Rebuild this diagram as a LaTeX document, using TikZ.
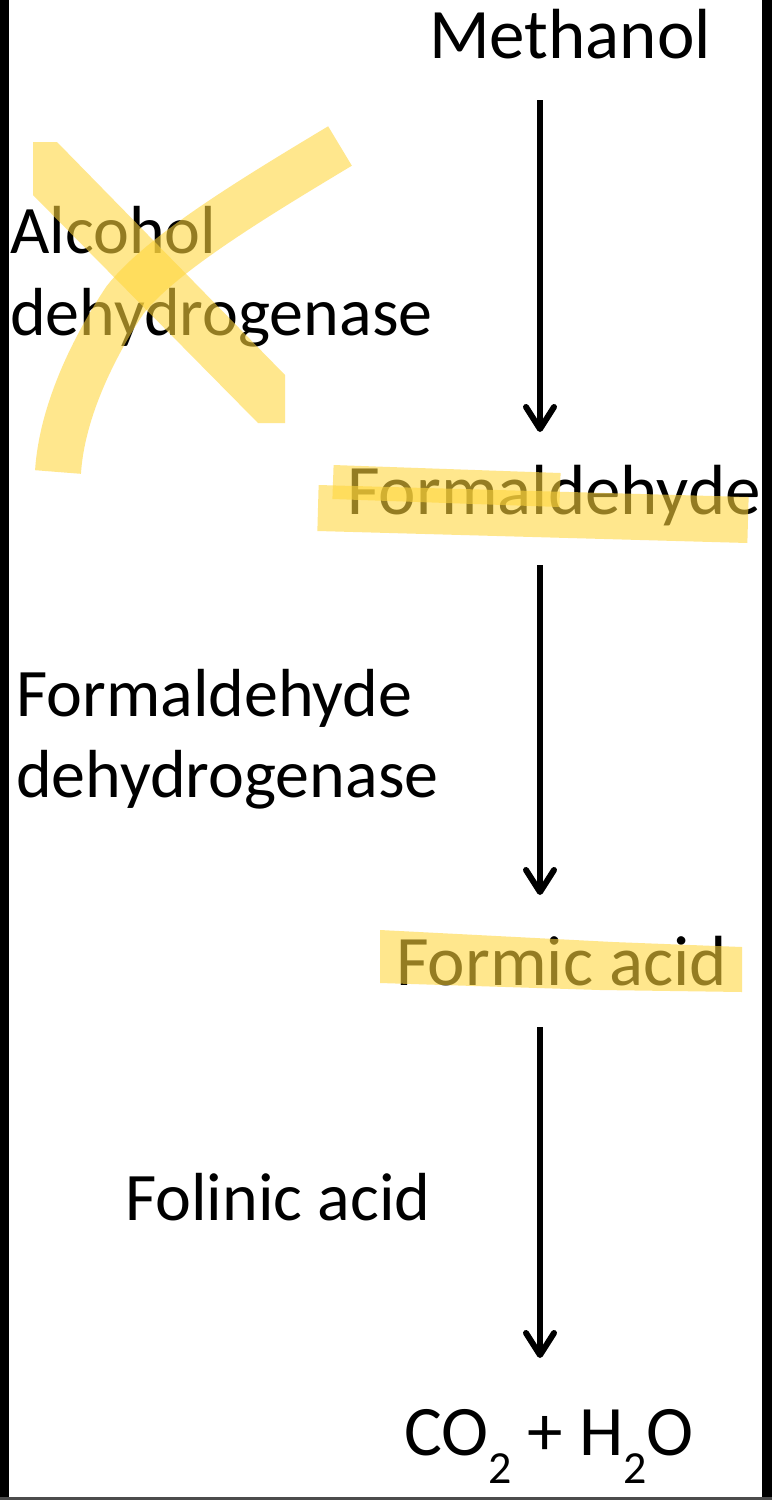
\documentclass[tikz,border=0pt]{standalone}
\usepackage{fontspec}
\setmainfont{Carlito}
\usetikzlibrary{arrows.meta}
\definecolor{hl}{RGB}{255,214,60}
\begin{document}
\begin{tikzpicture}[x=1pt,y=-1pt,
  txt/.style={inner sep=0pt, anchor=base west, font=\fontsize{71}{80}\selectfont},
  lbl/.style={inner sep=0pt, anchor=base west, font=\fontsize{68}{80}\selectfont},
  arr/.style={line width=6pt, -{Straight Barb[length=22pt,width=28pt,line width=6pt,round]}},
  hlstroke/.style={draw=hl, opacity=0.58, line cap=butt},
  hlfill/.style={fill=hl, opacity=0.58}]
\useasboundingbox (0,0) rectangle (772,1500);
\fill[white] (0,0) rectangle (772,1500);
% frame
\fill[black] (0,0) rectangle (9,1500);
\fill[black] (762,0) rectangle (772,1500);
\fill[black!70] (0,1497) rectangle (772,1500);
% texts
\node[txt] (meth) at (429,58) {Methanol};
\node[lbl] (adh1) at (10,253) {Alcohol};
\node[lbl] (adh2) at (10,335) {dehydrogenase};
\node[txt] (fald) at (347,514) {Formaldehyde};
\node[lbl] (fdh1) at (16,716) {Formaldehyde};
\node[lbl] (fdh2) at (16,797) {dehydrogenase};
\node[txt] (facid) at (396,985) {Formic acid};
\node[lbl] (folin) at (125,1220) {Folinic acid};
\node[txt] (co2) at (404,1455) {CO\lower28pt\hbox{\fontsize{46}{46}\selectfont 2} + H\lower28pt\hbox{\fontsize{46}{46}\selectfont 2}O};
% arrows
\coordinate (xa) at (540,0);
\draw[arr, shorten <=42pt, shorten >=82pt] (meth.base -| xa) -- (fald.base -| xa);
\draw[arr, shorten <=51pt, shorten >=90pt] (fald.base -| xa) -- (facid.base -| xa);
\draw[arr, shorten <=42pt, shorten >=97pt] (facid.base -| xa) -- (co2.base -| xa);
% highlighter marks
\fill[hlfill] (33,142) -- (57,142) -- (285,375) -- (285,423) -- (258,423) -- (33,195) -- cycle;
\draw[hlstroke, line width=46pt] (340,146) .. controls (250,200) and (160,255) .. (125,300) .. controls (95,345) and (62,410) .. (58,472);
\draw[hlstroke, line width=46pt] (318,508) -- (748,520);
\draw[hlstroke, line width=34pt] (333,482) -- (560,490);
\fill[hlfill] (380,930) -- (613,942) -- (742,947) -- (742,992) -- (600,990) -- (380,983) -- cycle;
\end{tikzpicture}
\end{document}
